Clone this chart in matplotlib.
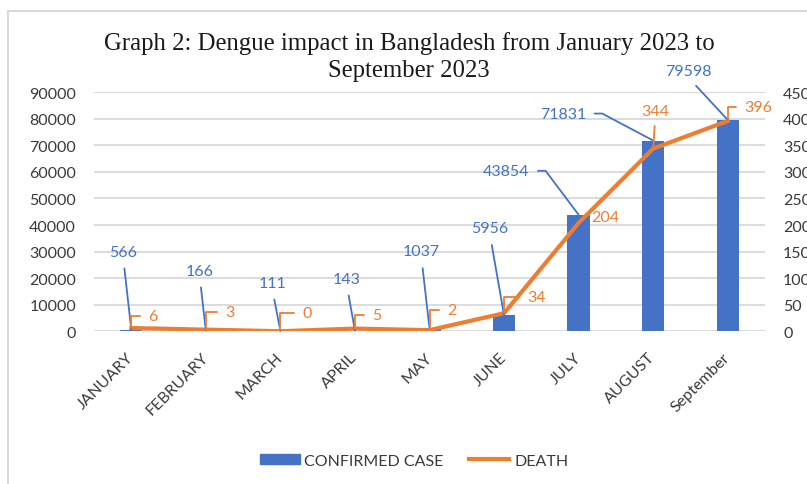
import math
import numpy as np
import matplotlib
matplotlib.use("Agg")
import matplotlib.pyplot as plt
from matplotlib.patches import Rectangle, Patch
from matplotlib.lines import Line2D

plt.rcParams['font.family'] = ['Lato', 'DejaVu Sans']

months = ['JANUARY', 'FEBRUARY', 'MARCH', 'APRIL', 'MAY', 'JUNE', 'JULY',
          'AUGUST', 'September']
confirmed = [566, 166, 111, 143, 1037, 5956, 43854, 71831, 79598]
deaths = [6, 3, 0, 5, 2, 34, 204, 344, 396]

case_ticks = np.arange(0, 90001, 10000)
death_ticks = np.arange(0, 451, 50)

BLUE = '#4472C4'
ORANGE = '#ED7D31'
GRID = '#d9d9d9'
TXT = '#3a3a3a'

# where each data label sits, in pixels from its point
case_offsets = [(-8, 78), (-6, 60), (-8, 48), (-8, 52), (-8, 77), (-14, 87),
                (-49, 44), (-67, 27), (-39, 49)]
case_styles = ['up'] * 6 + ['elbow', 'elbow', 'up']
death_offsets = [(17, 12), (19, 18), (22, 18), (17, 14), (18, 20), (23, 16),
                 (13, 6), (2, 38), (17, 14)]
death_styles = ['hook'] * 6 + [None, 'up', 'hook']

fig = plt.figure(figsize=(8.07, 4.85), dpi=100)
fig.add_artist(Rectangle((0.0093, -0.2), 1.2, 0.2 + 0.9753,
                         transform=fig.transFigure, fill=False,
                         edgecolor=GRID, lw=1.5))

ax = fig.add_axes([0.1165, 0.315, 0.8315, 0.4926])
x = np.arange(len(months))
ax.bar(x, confirmed, width=0.30, color=BLUE, zorder=2)
ax.set_ylim(0, 90000)
ax.set_xlim(-0.5, len(months) - 0.5)
ax.set_yticks(case_ticks)
ax.grid(axis='y', color=GRID, lw=1.3, zorder=0)
ax.set_axisbelow(True)
for s in ax.spines.values():
    s.set_visible(False)
ax.tick_params(axis='both', length=0, labelsize=11.5, labelcolor=TXT)
ax.tick_params(axis='y', pad=13)
ax.set_xticks(x, months, rotation=45, ha='right', va='center',
              rotation_mode='anchor')
ax.tick_params(axis='x', pad=17)

ax2 = ax.twinx()
ax2.plot(x, deaths, color=ORANGE, lw=3, solid_joinstyle='round', zorder=3)
ax2.set_ylim(0, 450)
ax2.set_yticks(death_ticks)
for s in ax2.spines.values():
    s.set_visible(False)
ax2.tick_params(axis='y', length=0, labelsize=11.5, labelcolor=TXT, pad=13)

# confirmed case labels with leader lines
for i, v in enumerate(confirmed):
    dx, dy = case_offsets[i]
    style = case_styles[i]
    if style == 'elbow':
        kx, ky = dx + 16, dy
        ang = math.degrees(math.atan2(ky, kx))
        arrow = dict(arrowstyle='-', color=BLUE, lw=1.3, shrinkA=4, shrinkB=0,
                     relpos=(1, 0.5),
                     connectionstyle='angle,angleA=0,angleB=%.1f,rad=0' % ang)
        ha = 'right'
    else:
        arrow = dict(arrowstyle='-', color=BLUE, lw=1.3, shrinkA=5, shrinkB=0,
                     relpos=(0.5, 0))
        ha = 'center'
    ax2.annotate(str(v), xy=(i, v), xycoords=ax.transData,
                 xytext=(dx, dy), textcoords='offset pixels',
                 ha=ha, va='center', color=BLUE, fontsize=11.5,
                 arrowprops=arrow, zorder=5)

# death labels
for i, v in enumerate(deaths):
    dx, dy = death_offsets[i]
    style = death_styles[i]
    if style == 'hook':
        arrow = dict(arrowstyle='-', color=ORANGE, lw=1.3, shrinkA=4,
                     shrinkB=0, relpos=(0, 0.5),
                     connectionstyle='angle,angleA=0,angleB=90,rad=0')
        ha = 'left'
    elif style == 'up':
        arrow = dict(arrowstyle='-', color=ORANGE, lw=1.3, shrinkA=4,
                     shrinkB=0, relpos=(0.5, 0))
        ha = 'center'
    else:
        arrow = None
        ha = 'left'
    ax2.annotate(str(v), xy=(i, v), xytext=(dx, dy),
                 textcoords='offset pixels', ha=ha, va='center',
                 color=ORANGE, fontsize=11.5, arrowprops=arrow, zorder=5)

fig.text(0.507, 0.882,
         'Graph 2: Dengue impact in Bangladesh from January 2023 to\nSeptember 2023',
         ha='center', va='center', fontsize=17.8, family='Liberation Serif',
         color='#1a1a1a', linespacing=1.32)

handles = [Patch(color=BLUE), Line2D([], [], color=ORANGE, lw=3)]
fig.legend(handles, ['CONFIRMED CASE', 'DEATH'], loc='center',
           bbox_to_anchor=(0.513, 0.048), ncol=2, frameon=False,
           fontsize=11.5, handlelength=2.5, handleheight=0.6,
           handletextpad=0.3, columnspacing=1.6, labelcolor=TXT)

fig.savefig('out.png', dpi=100)
